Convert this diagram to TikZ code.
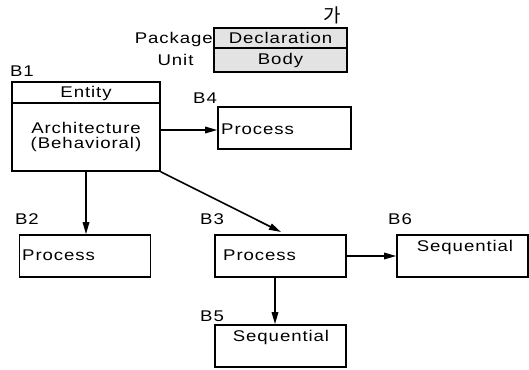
\documentclass[tikz,border=0pt]{standalone}
\usepackage{fontspec}
\setmainfont{Liberation Sans}[LetterSpace=6,FakeStretch=1.2]
\newfontfamily\krfont{Noto Sans CJK KR}
\usetikzlibrary{arrows.meta}
\begin{document}
\begin{tikzpicture}[x=1pt,y=-1pt,
  font=\fontsize{15.5}{16}\selectfont,
  box/.style={draw,line width=1.6pt,inner sep=0pt},
  pkg/.style={box,fill=black!11},
  txt/.style={inner sep=0pt},
  conn/.style={line width=1.6pt,-{Triangle[length=12pt,width=6.5pt]}}]
\useasboundingbox (0,0) rectangle (529,369);

% package unit
\node[pkg,minimum width=133pt,minimum height=20pt] (decl) at (280.5,38) {};
\node[pkg,minimum width=133pt,minimum height=24pt] (body) at (280.5,60) {};
\node[txt] (declt) at (decl.center) {Declaration};
\node[txt] (bodyt) at (body.center) {Body};
\node[txt,anchor=east] (pkgt) at (213,39) {Package};
\node[txt] (unitt) at (175.5,60) {Unit};
\node[txt,font=\krfont\fontsize{19}{19}\selectfont] (ga) at (332,15) {가};

% B1: entity and architecture
\node[box,minimum width=148pt,minimum height=21pt] (ent) at (86,92.5) {};
\node[box,minimum width=148pt,minimum height=68pt] (arch) at (86,137) {};
\node[txt] (entt) at (86,93) {Entity};
\node[txt,align=center,font=\fontsize{15.5}{14.5}\selectfont] (archt) at (86,137) {Architecture\\(Behavioral)};
\node[txt] (b1) at (22,71) {B1};

% B4
\node[box,minimum width=133pt,minimum height=42pt] (p4) at (284.5,128) {};
\node[txt,anchor=west] (p4t) at (221,129) {Process};
\node[txt] (b4) at (205,98) {B4};

% B2
\node[box,minimum width=131pt,minimum height=42pt] (p2) at (85,256) {};
\node[txt,anchor=west] (p2t) at (22,255) {Process};
\node[txt] (b2) at (27,219) {B2};

% B3
\node[box,minimum width=131pt,minimum height=42pt] (p3) at (280.5,256) {};
\node[txt,anchor=west] (p3t) at (223,255) {Process};
\node[txt] (b3) at (212,219) {B3};

% B6
\node[box,minimum width=131pt,minimum height=42pt] (s6) at (462.5,256) {};
\node[txt] (s6t) at (465,247) {Sequential};
\node[txt] (b6) at (400,219) {B6};

% B5
\node[box,minimum width=131pt,minimum height=42pt] (s5) at (280.5,346) {};
\node[txt] (s5t) at (281,337) {Sequential};
\node[txt] (b5) at (212,316) {B5};

% connectors
\coordinate (b3in) at (281,232);
\draw[conn] (arch.east |- 0,130) -- (p4.west |- 0,130);
\draw[conn] (arch.south -| 86,0) -- (p2.north -| 86,0);
\draw[conn] (arch.south east) -- (b3in);
\draw[conn] (p3.east) -- (s6.west);
\draw[conn] (p3.south -| 275,0) -- (s5.north -| 275,0);
\end{tikzpicture}
\end{document}
